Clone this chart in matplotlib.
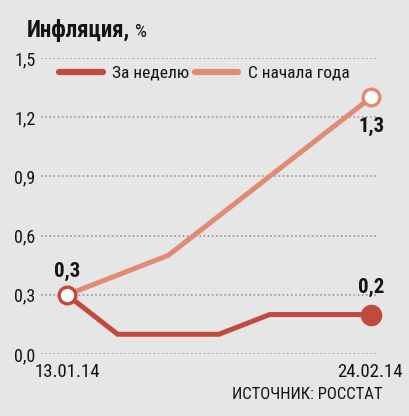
import matplotlib
matplotlib.use("Agg")
import matplotlib.pyplot as plt

# --- data ---
weeks = ["13.01.14", "20.01.14", "27.01.14", "03.02.14", "10.02.14", "17.02.14", "24.02.14"]
weekly = [0.3, 0.1, 0.1, 0.1, 0.2, 0.2, 0.2]
ytd = [0.3, 0.4, 0.5, 0.7, 0.9, 1.1, 1.3]
yticks = [0.0, 0.3, 0.6, 0.9, 1.2, 1.5]
ytick_labels = ["0,0", "0,3", "0,6", "0,9", "1,2", "1,5"]
series_names = ["За неделю", "С начала года"]

DARK, LIGHT, BG, INK, GRID = "#c24a3d", "#e08b73", "#e6e6e6", "#141414", "#9a9a9a"
plt.rcParams["font.family"] = ["Roboto Condensed", "DejaVu Sans"]

W, H = 409, 416
def px(x, y):  # pixel (from top-left) -> figure fraction
    return x / W, 1 - y / H

fig = plt.figure(figsize=(W / 100, H / 100), dpi=100)
fig.patch.set_facecolor(BG)
ax = fig.add_axes([41 / W, 62 / H, 337 / W, 296 / H])
ax.set_facecolor(BG)
x = list(range(len(weeks)))
ax.set_xlim(-0.513, 6.138)
ax.set_ylim(0, 1.5)

for y in yticks:
    ax.axhline(y, color=GRID, lw=1.2, ls=(0, (1, 1.5)), zorder=1)

ax.plot(x, ytd, color=LIGHT, lw=3.6, solid_joinstyle="miter", zorder=3, clip_on=False)
ax.plot(x, weekly, color=DARK, lw=3.6, solid_joinstyle="miter", zorder=4, clip_on=False)
ax.plot(x[-1], ytd[-1], "o", ms=12, mfc="white", mec=LIGHT, mew=2.4, zorder=5, clip_on=False)
ax.plot(x[0], ytd[0], "o", ms=12, mfc="white", mec=DARK, mew=2.4, zorder=6, clip_on=False)
ax.plot(x[-1], weekly[-1], "o", ms=14.5, color=DARK, zorder=6, clip_on=False)

ax.set_yticks(yticks)
ax.set_yticklabels(ytick_labels, fontsize=13, color=INK)
ax.set_xticks([])
ax.tick_params(length=0, pad=4)
for s in ax.spines.values():
    s.set_visible(False)

# value labels
fig.text(*px(67, 277), "0,3", ha="center", va="baseline", fontsize=15, fontweight="bold", color=INK)
fig.text(*px(372, 132), "1,3", ha="center", va="baseline", fontsize=15, fontweight="bold", color=INK)
fig.text(*px(371, 293), "0,2", ha="center", va="baseline", fontsize=15, fontweight="bold", color=INK)

# date labels
fig.text(*px(67, 377), weeks[0], ha="center", va="baseline", fontsize=13.5, color=INK)
fig.text(*px(370, 377), weeks[-1], ha="center", va="baseline", fontsize=13.5, color=INK)

# legend
for (x0, x1, tx), c, name in zip([(59, 103, 112), (195, 238, 248)], [DARK, LIGHT], series_names):
    fig.add_artist(plt.Line2D([x0 / W, x1 / W], [1 - 72 / H] * 2, color=c, lw=4.5, solid_capstyle="round"))
    fig.text(*px(tx, 77), name, ha="left", va="baseline", fontsize=12.5, color=INK)

# title and source
fig.text(*px(27, 37), "Инфляция,", fontsize=16.5, fontweight="bold", color=INK, va="baseline")
fig.text(*px(135, 37), "%", fontsize=13.5, color=INK, va="baseline")
fig.text(*px(383, 399), "ИСТОЧНИК: РОССТАТ", fontsize=12, ha="right", va="baseline", color=INK)

fig.savefig("out.png", dpi=100, facecolor=BG)
